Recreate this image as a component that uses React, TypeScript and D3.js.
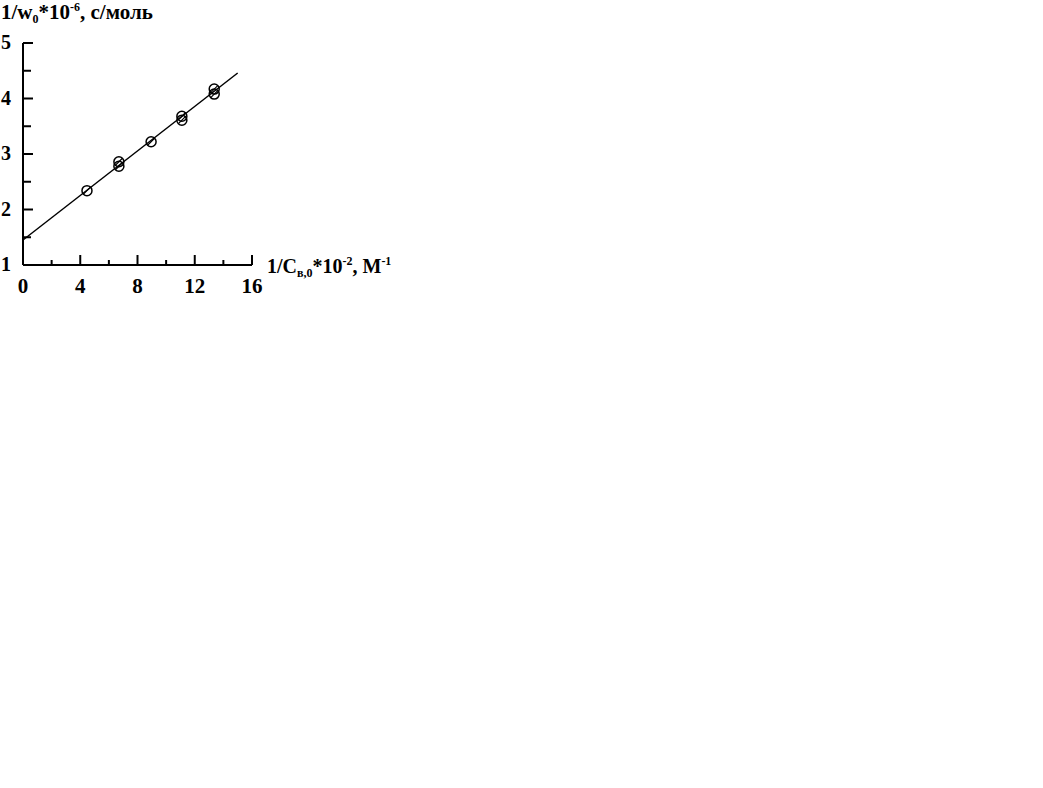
import React from "react";
import * as d3 from "d3";

const xMajorTicks = [0, 4, 8, 12, 16];
const xMinorTicks = [2, 6, 10, 14];
const yMajorTicks = [1, 2, 3, 4, 5];
const yMinorTicks = [1.5, 2.5, 3.5, 4.5];
const pointX = [4.47, 6.7, 6.7, 8.95, 11.1, 11.1, 13.36, 13.36];
const pointY = [2.34, 2.86, 2.78, 3.22, 3.68, 3.61, 4.17, 4.08];
const lineX = [0, 15.0];
const lineY = [1.45, 4.46];

export default function App() {
  const x = d3.scaleLinear().domain([0, 16]).range([23, 252]);
  const y = d3.scaleLinear().domain([1, 5]).range([265, 43]);
  const font = "'Liberation Serif', 'Times New Roman', serif";
  const line = d3
    .line<number>()
    .x((d) => x(lineX[d]))
    .y((d) => y(lineY[d]));
  return (
    <svg
      width={1043}
      height={788}
      style={{ position: "absolute", left: 0, top: 0, background: "#fff" }}
      fontFamily={font}
      fontWeight="bold"
    >
      <g stroke="#000" strokeWidth={2} fill="none">
        <line x1={x(0)} x2={x(0)} y1={y(5)} y2={y(1)} />
        <line x1={x(0)} x2={x(16)} y1={y(1)} y2={y(1)} />
        {yMajorTicks.map((t) => (
          <line key={"ym" + t} x1={x(0)} x2={x(0) + 10} y1={y(t)} y2={y(t)} />
        ))}
        {yMinorTicks.map((t) => (
          <line key={"yn" + t} x1={x(0)} x2={x(0) + 8} y1={y(t)} y2={y(t)} />
        ))}
        {xMajorTicks.map((t) => (
          <line key={"xm" + t} x1={x(t)} x2={x(t)} y1={y(1)} y2={y(1) - 10} />
        ))}
        {xMinorTicks.map((t) => (
          <line key={"xn" + t} x1={x(t)} x2={x(t)} y1={y(1)} y2={y(1) - 5} />
        ))}
      </g>
      <path d={line([0, 1]) || ""} stroke="#000" strokeWidth={1.5} fill="none" />
      {pointX.map((px, i) => (
        <g key={"p" + i}>
          <circle cx={x(px)} cy={y(pointY[i])} r={5} stroke="#000" strokeWidth={1.5} fill="none" />
          <line
            x1={x(px) - 3.5}
            y1={y(pointY[i]) + 3.5}
            x2={x(px) + 3.5}
            y2={y(pointY[i]) - 3.5}
            stroke="#000"
            strokeWidth={1.2}
          />
        </g>
      ))}
      {yMajorTicks.map((t) => (
        <text key={"yl" + t} x={11} y={y(t) + 6} textAnchor="end" fontSize={20}>
          {t}
        </text>
      ))}
      {xMajorTicks.map((t) => (
        <text key={"xl" + t} x={x(t)} y={293} textAnchor="middle" fontSize={21}>
          {t}
        </text>
      ))}
      <text x={1} y={19} fontSize={21}>
        1/w<tspan fontSize={12} dy={4}>0</tspan>
        <tspan dy={-4}>*10</tspan>
        <tspan fontSize={12} dy={-8}>-6</tspan>
        <tspan dy={8}>, с/моль</tspan>
      </text>
      <text x={267} y={273} fontSize={20}>
        1/C<tspan fontSize={12} dy={4}>в,0</tspan>
        <tspan dy={-4}>*10</tspan>
        <tspan fontSize={12} dy={-8}>-2</tspan>
        <tspan dy={8}>, М</tspan>
        <tspan fontSize={12} dy={-8}>-1</tspan>
      </text>
    </svg>
  );
}
